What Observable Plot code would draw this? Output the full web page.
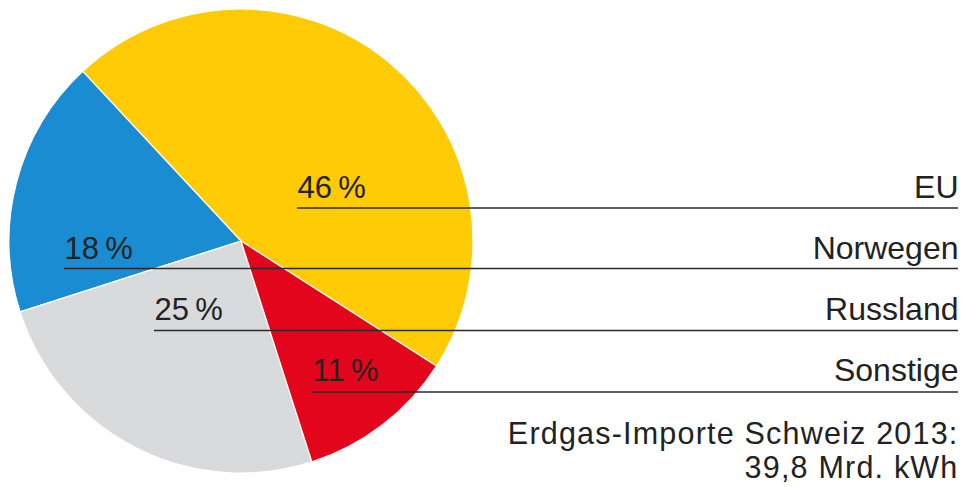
<!DOCTYPE html>
<html>
<head>
<meta charset="utf-8">
<script src="https://cdn.jsdelivr.net/npm/d3@7"></script>
<script src="https://cdn.jsdelivr.net/npm/@observablehq/plot@0.6"></script>
<style>
  html, body { margin: 0; padding: 0; background: #fff; }
  #chart svg { display: block; }
</style>
</head>
<body>
<div id="chart"></div>
<script>
// ---- data ----
const categories = ["EU", "Norwegen", "Russland", "Sonstige"];
const shares = [46, 18, 25, 11];
const captionLines = ["Erdgas-Importe Schweiz 2013:", "39,8 Mrd. kWh"];

// ---- styling / layout (kept apart from the data) ----
const colors = ["#FFCB05", "#1A8DD2", "#D9DADC", "#E3051B"];
const pctLabelX = [297, 64, 154, 312];     // left edge of the % labels
const rowBaseline = [197, 258.5, 319.5, 380.5];
const ruleYs = [207.5, 268, 330, 391.5];
const rightEdge = 958;
const pie = {cx: 241, cy: 241, r: 232, start: 122.6}; // start: degrees, clockwise from 12 o'clock
const captionBaselines = [443.5, 477.5];
const fontFamily = "'Liberation Sans', Arial, Helvetica, sans-serif";
const ink = "#222";

const table = categories.map((c, i) => ({
  category: c, value: shares[i], color: colors[i],
  px: pctLabelX[i], by: rowBaseline[i], ly: ruleYs[i]
}));
const caption = captionLines.map((t, i) => ({text: t, by: captionBaselines[i]}));

// custom pie mark drawn with the plot's own x/y scales
function pieMark(index, scales) {
  const x = scales.x, y = scales.y;
  const cx = x(pie.cx), cy = y(pie.cy);
  const r = x(pie.cx + pie.r) - cx;
  const a0 = pie.start * Math.PI / 180;
  const arcs = d3.pie().sort(null).value(d => d.value)
    .startAngle(a0).endAngle(a0 - 2 * Math.PI)(table);
  const arc = d3.arc().innerRadius(0).outerRadius(r);
  const g = d3.create("svg:g").attr("transform", `translate(${cx},${cy})`);
  g.selectAll("path").data(arcs).join("path")
    .attr("d", arc)
    .attr("fill", d => d.data.color)
    .attr("stroke", "#fff")
    .attr("stroke-width", 1.2)
    .attr("stroke-linejoin", "round");
  return g.node();
}

const chart = Plot.plot({
  width: 965,
  height: 487,
  margin: 0,
  x: {domain: [0, 965], range: [0, 965], axis: null},
  y: {domain: [0, 487], range: [0, 487], axis: null},
  style: {fontFamily, background: "#fff"},
  marks: [
    pieMark,
    Plot.ruleY(table, {y: "ly", x1: "px", x2: rightEdge, stroke: "#2a2a2a", strokeWidth: 1.6}),
    Plot.text(table, {
      x: "px", y: "by", text: d => `${d.value}\u2009%`,
      textAnchor: "start", lineAnchor: "bottom",
      fontSize: 31, fill: ink, fontFamily
    }),
    Plot.text(table, {
      x: rightEdge, y: "by", text: "category",
      textAnchor: "end", lineAnchor: "bottom",
      fontSize: 32, fill: ink, fontFamily
    }),
    Plot.text(caption, {
      x: rightEdge, y: "by", text: "text",
      textAnchor: "end", lineAnchor: "bottom",
      fontSize: 30.5, fill: ink, fontFamily,
      className: "caption"
    })
  ]
});
chart.querySelectorAll(".caption text").forEach(t => t.setAttribute("letter-spacing", "1.2"));
document.getElementById("chart").append(chart);
</script>
</body>
</html>
